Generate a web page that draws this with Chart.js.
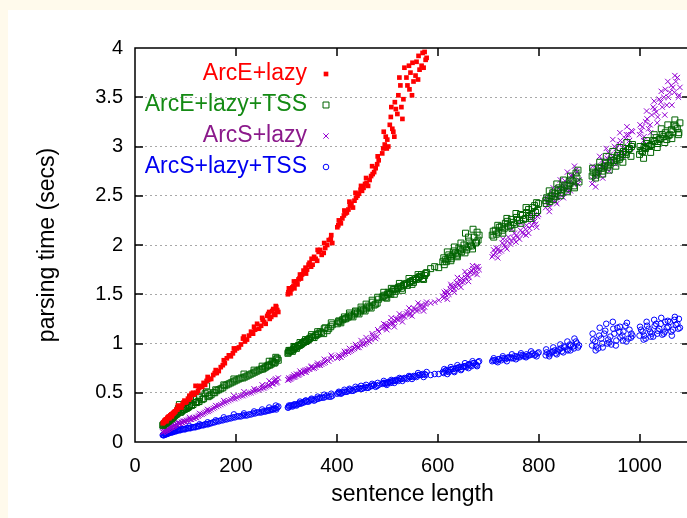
<!DOCTYPE html>
<html>
<head>
<meta charset="utf-8">
<script src="https://cdn.jsdelivr.net/npm/chart.js@4.4.0/dist/chart.umd.min.js"></script>
<style>
  html, body { margin: 0; padding: 0; background: #fffaec; overflow: hidden; }
  #wrap { position: absolute; left: 8px; top: 10px; width: 692px; height: 508px; background: #fff; }
</style>
</head>
<body>
<div id="wrap"><canvas id="parseChart"></canvas></div>
<script>
// one entry per sentence, times in seconds (three batches, same order in every array)
const sentenceLength = [
  55, 57, 60, 62, 65, 68, 70, 73, 75, 78, 80, 84, 88, 92, 96, 100, 105, 110, 115, 120, 125, 130, 136,
  142, 148, 155, 162, 170, 178, 186, 194, 202, 210, 218, 226, 234, 242, 250, 256, 262, 267, 272, 276, 280, 284,
  303, 306, 310, 314, 318, 322, 326, 331, 336, 341, 346, 352, 358, 364, 370, 377, 384, 391,
  401, 406, 411, 417, 423, 429, 435, 441, 447, 453, 459, 465, 471, 477, 483,
  490, 495, 500, 505, 510, 515, 520, 526, 532, 538, 544, 550, 556, 562, 568, 574, 578,
  586, 594, 602,
  610, 615, 620, 625, 630, 635, 640, 645, 650, 655, 660, 665, 670, 675, 680,
  708, 714, 720, 726, 732, 738, 744, 750, 756, 762, 768, 774, 780, 786, 792, 798,
  814, 820, 826, 832, 838, 844, 850, 856, 862, 868, 874,
  906, 912, 918, 924, 930, 936, 942, 948, 954, 960, 966, 972, 978, 984,
  1000, 1006, 1012, 1018, 1024, 1030, 1036, 1042, 1048, 1054, 1060, 1066, 1072, 1078,

  56, 58, 59, 61, 63, 64, 66, 67, 69, 71, 72, 74, 76, 77, 79, 82, 86, 90, 94, 98,
  102, 107, 112, 117, 122, 127, 133, 139, 145, 151, 158, 166, 174, 182, 190, 198, 206, 214, 222, 230,
  238, 246, 253, 259, 264, 270, 274, 278, 282,
  304, 308, 312, 316, 320, 324, 329, 334, 339, 344, 349, 355, 361, 367, 374, 381, 388,
  403, 408, 414, 420, 426, 432, 438, 444, 450, 456, 462, 468, 474, 480,
  492, 497, 502, 507, 512, 517, 522, 528, 534, 540, 546, 552, 558, 564, 570, 576,
  612, 617, 622, 627, 632, 637, 642, 647, 652, 657, 662, 667, 672, 677, 682,
  710, 716, 722, 728, 734, 740, 746, 752, 758, 764, 770, 776, 782, 788, 794, 800,
  816, 822, 828, 834, 840, 846, 852, 858, 864, 870, 876, 880,
  908, 914, 920, 926, 932, 938, 944, 950, 956, 962, 968, 974, 980, 986,
  1003, 1009, 1015, 1021, 1027, 1033, 1039, 1045, 1051, 1057, 1063, 1069, 1075, 1080,

  85, 108, 128, 144, 160, 176, 196, 216, 236, 252, 266, 279,
  305, 315, 327, 338, 350, 362, 375, 389,
  404, 415, 425, 437, 448, 458, 470, 481,
  493, 499, 508, 514, 524, 530, 543, 549, 561, 572,
  613, 619, 626, 633, 639, 646, 654, 661, 669, 678,
  711, 719, 729, 737, 747, 755, 765, 775, 785, 796,
  815, 821, 829, 836, 843, 849, 857, 863, 871, 878,
  907, 913, 921, 927, 934, 940, 947, 953, 961, 967, 975, 983,
  1001, 1008, 1014, 1022, 1029, 1035, 1043, 1050, 1056, 1064, 1070, 1077
];

// above 4 s the ArcE+lazy points fall outside the plot, left empty
const arcELazy = [
  0.19, 0.20, 0.22, 0.21, 0.25, 0.24, 0.27, 0.26, 0.29, 0.30, 0.31, 0.33, 0.36, 0.35, 0.40, 0.40, 0.44, 0.45, 0.50, 0.57, 0.52, 0.56, 0.60,
  0.62, 0.64, 0.68, 0.70, 0.76, 0.80, 0.88, 0.90, 0.95, 0.99, 1.02, 1.08, 1.10, 1.20, 1.18, 1.22, 1.28, 1.25, 1.33, 1.30, 1.37, 1.32,
  1.50, 1.53, 1.55, 1.58, 1.62, 1.60, 1.66, 1.70, 1.72, 1.75, 1.82, 1.80, 1.86, 1.93, 1.90, 1.97, 2.05, 2.02,
  2.18, 2.24, 2.27, 2.32, 2.36, 2.42, 2.45, 2.50, 2.56, 2.58, 2.63, 2.66, 2.72, 2.78, 2.86,
  2.93, 3.02, 3.07, 3.22, 3.18, 3.45, 3.33, 3.62, 3.48, 3.70, 3.58, 3.85, 3.72, 3.92, 3.82, 3.96, 3.90,
  null, null, null,
  null, null, null, null, null, null, null, null, null, null, null, null, null, null, null,
  null, null, null, null, null, null, null, null, null, null, null, null, null, null, null, null,
  null, null, null, null, null, null, null, null, null, null, null,
  null, null, null, null, null, null, null, null, null, null, null, null, null, null,
  null, null, null, null, null, null, null, null, null, null, null, null, null, null,

  0.20, 0.21, 0.22, 0.23, 0.22, 0.24, 0.25, 0.26, 0.25, 0.27, 0.28, 0.28, 0.29, 0.30, 0.31, 0.33, 0.35, 0.36, 0.38, 0.42,
  0.41, 0.43, 0.49, 0.48, 0.50, 0.55, 0.56, 0.58, 0.63, 0.64, 0.70, 0.72, 0.78, 0.85, 0.87, 0.93, 0.96, 1.05, 1.04, 1.12,
  1.14, 1.15, 1.24, 1.20, 1.30, 1.27, 1.35, 1.29, 1.34,
  1.52, 1.51, 1.57, 1.56, 1.63, 1.65, 1.66, 1.74, 1.71, 1.80, 1.78, 1.88, 1.84, 1.95, 1.92, 2.00, 2.06,
  2.20, 2.22, 2.30, 2.33, 2.40, 2.38, 2.48, 2.52, 2.55, 2.62, 2.60, 2.70, 2.74, 2.82,
  2.98, 3.10, 3.00, 3.30, 3.15, 3.38, 3.52, 3.40, 3.80, 3.62, 3.75, 3.66, 3.86, 3.78, 3.95, 3.88,
  null, null, null, null, null, null, null, null, null, null, null, null, null, null, null,
  null, null, null, null, null, null, null, null, null, null, null, null, null, null, null, null,
  null, null, null, null, null, null, null, null, null, null, null, null,
  null, null, null, null, null, null, null, null, null, null, null, null, null, null,
  null, null, null, null, null, null, null, null, null, null, null, null, null, null,

  0.37, 0.47, 0.57, 0.66, 0.73, 0.83, 0.95, 1.07, 1.17, 1.26, 1.32, 1.38,
  1.56, 1.63, 1.70, 1.77, 1.86, 1.95, 2.02, 2.10,
  2.25, 2.35, 2.44, 2.53, 2.60, 2.68, 2.80, 2.90,
  3.15, 2.98, 3.40, 3.10, 3.70, 3.28, 3.82, 3.52, 3.68, 3.80,
  null, null, null, null, null, null, null, null, null, null,
  null, null, null, null, null, null, null, null, null, null,
  null, null, null, null, null, null, null, null, null, null,
  null, null, null, null, null, null, null, null, null, null, null, null,
  null, null, null, null, null, null, null, null, null, null, null, null
];

const arcELazyTss = [
  0.17, 0.18, 0.19, 0.20, 0.21, 0.22, 0.24, 0.25, 0.25, 0.27, 0.28, 0.29, 0.38, 0.31, 0.33, 0.34, 0.35, 0.45, 0.38, 0.40, 0.41, 0.52, 0.44,
  0.57, 0.47, 0.50, 0.52, 0.54, 0.57, 0.59, 0.61, 0.63, 0.65, 0.66, 0.68, 0.70, 0.72, 0.74, 0.75, 0.77, 0.78, 0.82, 0.80, 0.84, 0.83,
  0.90, 0.92, 0.93, 0.94, 0.96, 0.97, 0.98, 1.00, 1.02, 1.03, 1.05, 1.06, 1.08, 1.10, 1.11, 1.16, 1.15, 1.19,
  1.20, 1.22, 1.24, 1.25, 1.27, 1.28, 1.30, 1.31, 1.33, 1.34, 1.36, 1.37, 1.42, 1.40, 1.45,
  1.47, 1.49, 1.50, 1.51, 1.53, 1.55, 1.56, 1.58, 1.59, 1.61, 1.62, 1.64, 1.66, 1.67, 1.70, 1.69, 1.72,
  1.76, 1.78, 1.77,
  1.83, 1.85, 1.86, 1.88, 1.90, 1.92, 1.91, 1.95, 1.96, 2.12, 1.98, 2.00, 2.16, 2.02, 2.05,
  2.10, 2.15, 2.13, 2.19, 2.17, 2.24, 2.20, 2.23, 2.28, 2.25, 2.30, 2.27, 2.36, 2.31, 2.40, 2.35,
  2.45, 2.47, 2.50, 2.52, 2.55, 2.56, 2.58, 2.60, 2.62, 2.65, 2.73,
  2.70, 2.73, 2.75, 2.78, 2.80, 2.79, 2.84, 2.86, 2.88, 2.87, 2.92, 2.94, 2.97, 3.00,
  2.92, 2.95, 2.98, 3.00, 3.02, 3.05, 3.03, 3.08, 3.10, 3.07, 3.12, 3.15, 3.20, 3.14,

  0.17, 0.18, 0.19, 0.19, 0.20, 0.21, 0.21, 0.22, 0.23, 0.23, 0.24, 0.24, 0.26, 0.26, 0.27, 0.28, 0.34, 0.30, 0.32, 0.33,
  0.34, 0.36, 0.37, 0.43, 0.40, 0.41, 0.43, 0.49, 0.46, 0.48, 0.50, 0.53, 0.55, 0.58, 0.60, 0.62, 0.64, 0.65, 0.67, 0.69,
  0.71, 0.73, 0.74, 0.76, 0.78, 0.79, 0.81, 0.81, 0.85,
  0.91, 0.93, 0.92, 0.96, 0.95, 0.98, 0.99, 1.01, 1.02, 1.04, 1.07, 1.06, 1.09, 1.12, 1.10, 1.13, 1.17,
  1.22, 1.21, 1.25, 1.26, 1.29, 1.27, 1.32, 1.30, 1.35, 1.33, 1.38, 1.36, 1.39, 1.41,
  1.48, 1.47, 1.52, 1.50, 1.55, 1.53, 1.57, 1.56, 1.60, 1.59, 1.63, 1.62, 1.65, 1.68, 1.66, 1.71,
  1.87, 1.83, 1.90, 1.86, 1.94, 1.89, 1.97, 1.93, 2.00, 1.95, 2.04, 1.99, 2.08, 2.03, 2.10,
  2.14, 2.11, 2.18, 2.15, 2.22, 2.19, 2.26, 2.21, 2.25, 2.31, 2.26, 2.33, 2.29, 2.38, 2.33, 2.42,
  2.48, 2.44, 2.53, 2.49, 2.58, 2.53, 2.61, 2.57, 2.66, 2.60, 2.68, 2.64,
  2.74, 2.71, 2.79, 2.75, 2.83, 2.81, 2.86, 2.84, 2.91, 2.89, 2.95, 2.92, 2.98, 3.02,
  2.96, 2.99, 3.03, 3.01, 3.06, 3.09, 3.07, 3.12, 3.14, 3.11, 3.17, 3.22, 3.18, 3.24,

  0.31, 0.37, 0.45, 0.50, 0.53, 0.58, 0.64, 0.69, 0.73, 0.77, 0.82, 0.86,
  0.93, 0.97, 1.01, 1.04, 1.09, 1.12, 1.15, 1.21,
  1.23, 1.27, 1.31, 1.33, 1.37, 1.40, 1.44, 1.47,
  1.52, 1.46, 1.56, 1.50, 1.61, 1.54, 1.66, 1.60, 1.70, 1.65,
  1.80, 1.93, 1.84, 1.98, 1.88, 2.02, 1.92, 2.08, 1.96, 2.13,
  2.08, 2.20, 2.12, 2.27, 2.17, 2.32, 2.22, 2.38, 2.27, 2.43,
  2.42, 2.55, 2.46, 2.62, 2.50, 2.66, 2.54, 2.70, 2.58, 2.76,
  2.78, 2.68, 2.84, 2.72, 2.90, 2.76, 2.95, 2.80, 2.99, 2.84, 3.04, 2.90,
  3.00, 2.88, 3.06, 2.94, 3.12, 2.99, 3.18, 3.04, 3.22, 3.08, 3.27, 3.12
];

const arcSLazy = [
  0.10, 0.11, 0.12, 0.12, 0.13, 0.14, 0.15, 0.15, 0.16, 0.17, 0.17, 0.18, 0.19, 0.20, 0.21, 0.21, 0.22, 0.23, 0.24, 0.25, 0.26, 0.28, 0.29,
  0.31, 0.32, 0.34, 0.36, 0.38, 0.40, 0.42, 0.44, 0.45, 0.47, 0.48, 0.50, 0.51, 0.53, 0.54, 0.55, 0.57, 0.57, 0.59, 0.62, 0.60, 0.65,
  0.63, 0.64, 0.65, 0.66, 0.67, 0.68, 0.69, 0.70, 0.71, 0.73, 0.74, 0.75, 0.76, 0.78, 0.79, 0.81, 0.82, 0.86,
  0.85, 0.87, 0.88, 0.90, 0.91, 0.93, 0.95, 0.96, 0.98, 0.99, 1.01, 1.02, 1.08, 1.05, 1.12,
  1.15, 1.17, 1.18, 1.20, 1.21, 1.23, 1.25, 1.26, 1.28, 1.30, 1.29, 1.33, 1.35, 1.34, 1.39, 1.37, 1.42,
  1.41, 1.42, 1.44,
  1.48, 1.50, 1.52, 1.55, 1.57, 1.58, 1.61, 1.63, 1.62, 1.67, 1.69, 1.72, 1.76, 1.74, 1.78,
  1.88, 1.92, 1.96, 1.94, 2.00, 2.04, 2.01, 2.07, 2.10, 2.06, 2.13, 2.16, 2.12, 2.20, 2.24, 2.29,
  2.38, 2.42, 2.46, 2.50, 2.48, 2.55, 2.60, 2.57, 2.64, 2.70, 2.76,
  2.62, 2.70, 2.75, 2.80, 2.78, 2.88, 2.92, 2.85, 2.98, 3.02, 2.95, 3.08, 3.12, 3.16,
  3.12, 3.20, 3.25, 3.18, 3.32, 3.38, 3.30, 3.45, 3.50, 3.42, 3.55, 3.60, 3.66, 3.52,

  0.10, 0.11, 0.11, 0.12, 0.12, 0.13, 0.13, 0.14, 0.14, 0.15, 0.15, 0.15, 0.16, 0.16, 0.17, 0.18, 0.19, 0.19, 0.20, 0.21,
  0.22, 0.23, 0.23, 0.24, 0.25, 0.27, 0.28, 0.30, 0.31, 0.33, 0.35, 0.37, 0.39, 0.41, 0.43, 0.44, 0.46, 0.47, 0.49, 0.50,
  0.52, 0.53, 0.55, 0.56, 0.58, 0.60, 0.59, 0.63, 0.61,
  0.63, 0.64, 0.66, 0.66, 0.69, 0.68, 0.70, 0.72, 0.71, 0.74, 0.76, 0.75, 0.78, 0.78, 0.80, 0.83, 0.84,
  0.86, 0.86, 0.89, 0.92, 0.92, 0.94, 0.97, 0.96, 1.00, 1.00, 1.03, 1.04, 1.06, 1.07,
  1.16, 1.19, 1.17, 1.22, 1.20, 1.25, 1.24, 1.28, 1.27, 1.32, 1.31, 1.36, 1.33, 1.38, 1.36, 1.40,
  1.46, 1.53, 1.50, 1.58, 1.55, 1.62, 1.59, 1.66, 1.64, 1.70, 1.67, 1.74, 1.71, 1.78, 1.75,
  1.90, 1.97, 1.93, 2.02, 1.98, 2.08, 2.04, 2.12, 2.08, 2.15, 2.11, 2.20, 2.17, 2.25, 2.21, 2.31,
  2.44, 2.38, 2.52, 2.44, 2.58, 2.50, 2.65, 2.54, 2.70, 2.62, 2.74, 2.66,
  2.66, 2.78, 2.72, 2.86, 2.82, 2.94, 2.88, 3.00, 2.93, 3.06, 3.00, 3.12, 3.06, 3.15,
  3.16, 3.10, 3.28, 3.22, 3.40, 3.35, 3.48, 3.40, 3.58, 3.50, 3.62, 3.55, 3.70, 3.60,

  0.20, 0.25, 0.29, 0.33, 0.37, 0.42, 0.47, 0.51, 0.54, 0.58, 0.62, 0.64,
  0.65, 0.68, 0.72, 0.73, 0.77, 0.80, 0.84, 0.88,
  0.88, 0.92, 0.95, 0.99, 1.03, 1.06, 1.10, 1.14,
  1.20, 1.14, 1.26, 1.17, 1.30, 1.22, 1.36, 1.28, 1.41, 1.33,
  1.52, 1.45, 1.60, 1.52, 1.67, 1.57, 1.73, 1.63, 1.79, 1.70,
  1.95, 1.87, 2.06, 1.96, 2.16, 2.03, 2.22, 2.10, 2.30, 2.18,
  2.48, 2.34, 2.58, 2.42, 2.66, 2.48, 2.74, 2.55, 2.80, 2.62,
  2.80, 2.59, 2.90, 2.68, 2.98, 2.75, 3.07, 2.82, 3.14, 2.90, 3.20, 2.98,
  3.22, 3.06, 3.36, 3.14, 3.46, 3.24, 3.56, 3.32, 3.66, 3.42, 3.72, 3.50
];

const arcSLazyTss = [
  0.07, 0.07, 0.08, 0.08, 0.09, 0.09, 0.10, 0.10, 0.10, 0.11, 0.11, 0.12, 0.12, 0.13, 0.13, 0.13, 0.14, 0.14, 0.15, 0.15, 0.16, 0.17, 0.17,
  0.18, 0.19, 0.20, 0.21, 0.22, 0.23, 0.24, 0.25, 0.26, 0.26, 0.27, 0.28, 0.29, 0.30, 0.30, 0.31, 0.32, 0.32, 0.33, 0.34, 0.33, 0.36,
  0.35, 0.36, 0.37, 0.37, 0.38, 0.38, 0.39, 0.40, 0.41, 0.41, 0.42, 0.43, 0.43, 0.44, 0.45, 0.46, 0.46, 0.47,
  0.49, 0.50, 0.50, 0.51, 0.52, 0.52, 0.53, 0.54, 0.54, 0.55, 0.55, 0.56, 0.57, 0.56, 0.58,
  0.59, 0.60, 0.60, 0.61, 0.62, 0.62, 0.63, 0.64, 0.64, 0.65, 0.66, 0.66, 0.67, 0.68, 0.68, 0.69, 0.71,
  0.68, 0.69, 0.69,
  0.71, 0.72, 0.72, 0.73, 0.74, 0.74, 0.75, 0.76, 0.76, 0.77, 0.78, 0.78, 0.80, 0.79, 0.81,
  0.82, 0.83, 0.84, 0.83, 0.85, 0.85, 0.86, 0.85, 0.87, 0.86, 0.88, 0.87, 0.88, 0.89, 0.88, 0.90,
  0.88, 0.90, 0.91, 0.93, 0.92, 0.95, 0.97, 0.94, 0.99, 0.97, 1.02,
  0.98, 1.02, 0.95, 1.05, 1.10, 1.00, 1.07, 1.15, 1.03, 1.12, 1.08, 1.18, 1.05, 1.10,
  1.08, 1.12, 1.05, 1.15, 1.10, 1.18, 1.13, 1.20, 1.10, 1.16, 1.22, 1.14, 1.19, 1.25,

  0.07, 0.07, 0.08, 0.08, 0.08, 0.09, 0.09, 0.09, 0.10, 0.10, 0.10, 0.10, 0.11, 0.11, 0.11, 0.11, 0.12, 0.12, 0.13, 0.13,
  0.14, 0.14, 0.15, 0.15, 0.16, 0.16, 0.17, 0.18, 0.18, 0.19, 0.20, 0.21, 0.22, 0.23, 0.24, 0.25, 0.26, 0.27, 0.27, 0.28,
  0.29, 0.30, 0.31, 0.31, 0.32, 0.33, 0.33, 0.34, 0.35,
  0.35, 0.37, 0.36, 0.38, 0.37, 0.39, 0.39, 0.40, 0.42, 0.41, 0.43, 0.42, 0.44, 0.45, 0.45, 0.47, 0.46,
  0.50, 0.49, 0.51, 0.51, 0.53, 0.52, 0.54, 0.55, 0.54, 0.56, 0.55, 0.57, 0.58, 0.57,
  0.60, 0.59, 0.61, 0.60, 0.62, 0.63, 0.62, 0.64, 0.65, 0.64, 0.66, 0.67, 0.66, 0.68, 0.69, 0.68,
  0.70, 0.73, 0.71, 0.74, 0.72, 0.75, 0.76, 0.74, 0.77, 0.76, 0.79, 0.77, 0.80, 0.78, 0.82,
  0.83, 0.82, 0.84, 0.85, 0.84, 0.86, 0.85, 0.87, 0.86, 0.88, 0.87, 0.89, 0.88, 0.90, 0.89, 0.91,
  0.91, 0.89, 0.92, 0.90, 0.94, 0.92, 0.96, 0.93, 0.98, 0.95, 1.00, 0.98,
  1.04, 0.97, 1.08, 1.00, 1.13, 1.04, 0.99, 1.10, 1.16, 1.06, 1.12, 1.02, 1.14, 1.08,
  1.14, 1.08, 1.18, 1.12, 1.07, 1.20, 1.15, 1.09, 1.22, 1.17, 1.12, 1.24, 1.20, 1.16,

  0.13, 0.16, 0.18, 0.20, 0.22, 0.25, 0.28, 0.29, 0.31, 0.33, 0.35, 0.37,
  0.37, 0.38, 0.41, 0.42, 0.44, 0.46, 0.48, 0.49,
  0.51, 0.53, 0.54, 0.56, 0.57, 0.58, 0.59, 0.60,
  0.62, 0.58, 0.63, 0.60, 0.65, 0.62, 0.67, 0.64, 0.70, 0.66,
  0.74, 0.69, 0.76, 0.71, 0.78, 0.73, 0.80, 0.75, 0.82, 0.77,
  0.85, 0.81, 0.87, 0.82, 0.89, 0.84, 0.90, 0.86, 0.92, 0.87,
  0.94, 0.87, 0.96, 0.89, 0.99, 0.91, 1.02, 0.93, 1.05, 0.96,
  1.10, 0.93, 1.16, 0.96, 1.20, 1.01, 1.22, 0.98, 1.17, 1.03, 1.21, 1.06,
  1.17, 1.04, 1.22, 1.07, 1.24, 1.10, 1.26, 1.12, 1.23, 1.08, 1.27, 1.15
];

const xTicks = [0, 200, 400, 600, 800, 1000];
const yTicks = [0, 0.5, 1, 1.5, 2, 2.5, 3, 3.5, 4];

const toPoints = times => sentenceLength
  .map((x, i) => ({ x: x, y: times[i] }))
  .filter(p => p.y !== null && p.y !== undefined);

const font = '"Liberation Sans", Arial, sans-serif';
Chart.defaults.font.family = font;
Chart.defaults.color = '#000';

// gnuplot style key: label right aligned, sample to its right
const keyBox = {
  id: 'keyBox',
  afterDatasetsDraw(chart) {
    const ctx = chart.ctx;
    ctx.save();
    ctx.font = '23px ' + font;
    ctx.textAlign = 'right';
    ctx.textBaseline = 'middle';
    chart.data.datasets.forEach((ds, i) => {
      const y = 64 + i * 31;
      ctx.fillStyle = ds.keyColor;
      ctx.fillText(ds.label, 299, y);
      ctx.strokeStyle = ds.borderColor;
      ctx.fillStyle = ds.backgroundColor;
      ctx.lineWidth = ds.borderWidth;
      Chart.helpers.drawPoint(ctx, {
        pointStyle: ds.pointStyle, radius: ds.pointRadius, rotation: 0, borderWidth: ds.borderWidth
      }, 318, y);
    });
    ctx.restore();
  }
};

const frame = {
  id: 'frame',
  afterDatasetsDraw(chart) {
    const { ctx, chartArea: a, scales: { x, y } } = chart;
    ctx.save();
    ctx.strokeStyle = '#000';
    ctx.lineWidth = 1.5;
    ctx.beginPath();
    xTicks.forEach(v => {
      const px = Math.round(x.getPixelForValue(v));
      ctx.moveTo(px, a.bottom); ctx.lineTo(px, a.bottom - 8);
      ctx.moveTo(px, a.top); ctx.lineTo(px, a.top + 8);
    });
    yTicks.forEach(v => {
      const py = Math.round(y.getPixelForValue(v));
      ctx.moveTo(a.left, py); ctx.lineTo(a.left + 8, py);
      ctx.moveTo(a.right, py); ctx.lineTo(a.right - 8, py);
    });
    ctx.rect(a.left, a.top, a.right - a.left, a.bottom - a.top);
    ctx.stroke();
    ctx.restore();
  }
};

new Chart(document.getElementById('parseChart'), {
  type: 'scatter',
  data: {
    datasets: [
      {
        label: 'ArcE+lazy', data: toPoints(arcELazy), keyColor: '#ff0000',
        pointStyle: 'rect', pointRadius: 3.3, borderWidth: 0,
        backgroundColor: '#ff0000', borderColor: '#ff0000'
      },
      {
        label: 'ArcE+lazy+TSS', data: toPoints(arcELazyTss), keyColor: '#148a14',
        pointStyle: 'rect', pointRadius: 4.2, borderWidth: 1,
        backgroundColor: 'rgba(0,0,0,0)', borderColor: '#006400'
      },
      {
        label: 'ArcS+lazy', data: toPoints(arcSLazy), keyColor: '#8b1a8b',
        pointStyle: 'crossRot', pointRadius: 3.8, borderWidth: 1,
        backgroundColor: '#9400d3', borderColor: '#9400d3'
      },
      {
        label: 'ArcS+lazy+TSS', data: toPoints(arcSLazyTss), keyColor: '#0000f0',
        pointStyle: 'circle', pointRadius: 2.8, borderWidth: 1,
        backgroundColor: 'rgba(0,0,0,0)', borderColor: '#0000ff'
      }
    ]
  },
  options: {
    responsive: true,
    maintainAspectRatio: false,
    animation: false,
    layout: { padding: { top: 38, right: 10, left: 0, bottom: 0 } },
    plugins: { legend: { display: false }, tooltip: { enabled: false } },
    scales: {
      x: {
        type: 'linear', min: 0, max: 1100,
        afterBuildTicks: s => { s.ticks = xTicks.map(v => ({ value: v })); },
        afterFit: s => { s.height = 76; },
        grid: { display: false, drawTicks: false },
        border: { display: false },
        ticks: { font: { size: 20 }, padding: 12, maxRotation: 0, callback: v => String(v) },
        title: { display: true, text: 'sentence length', font: { size: 23 }, padding: { top: 0, bottom: 10 } }
      },
      y: {
        type: 'linear', min: 0, max: 4,
        afterBuildTicks: s => { s.ticks = yTicks.map(v => ({ value: v })); },
        afterFit: s => { s.width = 127; },
        grid: {
          drawTicks: false,
          color: c => (c.tick && c.tick.value > 0 && c.tick.value < 4) ? '#a8a8a8' : 'rgba(0,0,0,0)'
        },
        border: { display: false, dash: [2, 3] },
        ticks: { font: { size: 20 }, padding: 12, callback: v => String(v) },
        title: { display: true, text: 'parsing time (secs)', font: { size: 23 }, padding: { top: 26, bottom: 0 } }
      }
    }
  },
  plugins: [frame, keyBox]
});
</script>
</body>
</html>
